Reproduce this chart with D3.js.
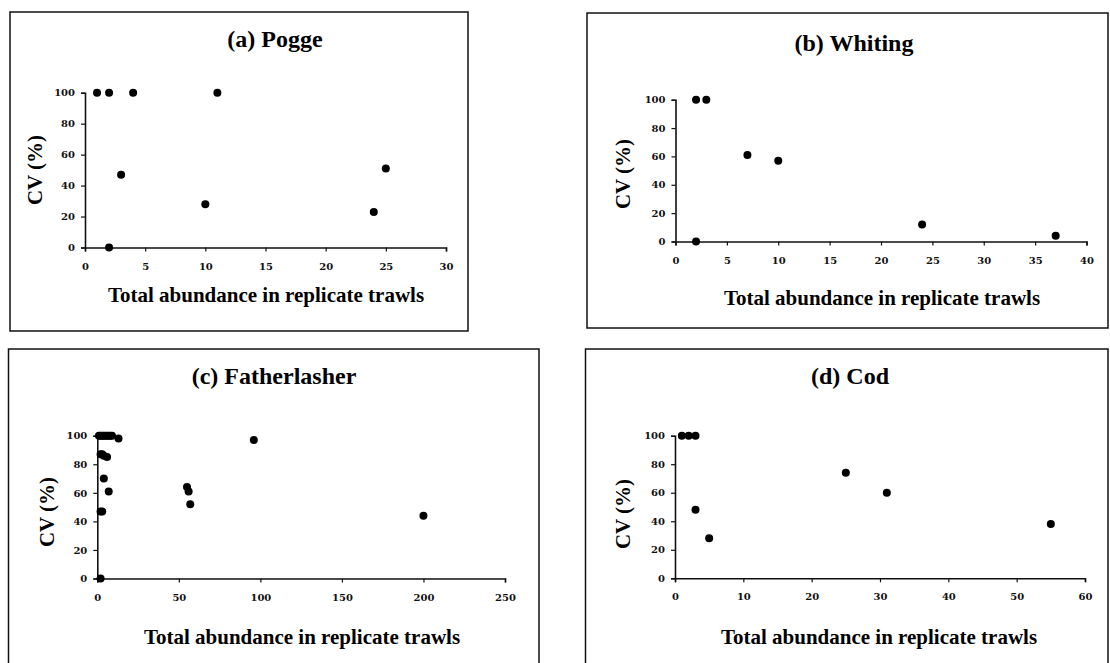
<!DOCTYPE html>
<html>
<head>
<meta charset="utf-8">
<script src="https://cdn.jsdelivr.net/npm/d3@7"></script>
<style>
  html, body { margin: 0; padding: 0; background: #fff; }
  svg { display: block; }
</style>
</head>
<body>
<svg id="chart" width="1110" height="663"></svg>
<script>
// ---------- DATA ----------
const titles = ["(a) Pogge", "(b) Whiting", "(c) Fatherlasher", "(d) Cod"];
const xAxisLabel = "Total abundance in replicate trawls";
const yAxisLabel = "CV (%)";

const poggeX = [1, 2, 4, 11, 3, 2, 10, 24, 25];
const poggeY = [100, 100, 100, 100, 47, 0, 28, 23, 51];

const whitingX = [2, 3, 2, 7, 10, 24, 37];
const whitingY = [100, 100, 0, 61, 57, 12, 4];

const fatherX = [1, 2, 3, 4, 5, 6, 7, 8, 9, 13, 2, 3, 4, 6, 4, 7, 2, 3, 2, 55, 56, 57, 96, 200];
const fatherY = [100, 100, 100, 100, 100, 100, 100, 100, 100, 98, 87, 87, 86, 85, 70, 61, 47, 47, 0, 64, 61, 52, 97, 44];

const codX = [1, 2, 3, 3, 5, 25, 31, 55];
const codY = [100, 100, 100, 48, 28, 74, 60, 38];

const poggeXTicks = [0, 5, 10, 15, 20, 25, 30];
const whitingXTicks = [0, 5, 10, 15, 20, 25, 30, 35, 40];
const fatherXTicks = [0, 50, 100, 150, 200, 250];
const codXTicks = [0, 10, 20, 30, 40, 50, 60];
const yTicks = [0, 20, 40, 60, 80, 100];

// ---------- LAYOUT ----------
const layouts = [
  { box: [10, 12, 468, 331], plot: [85, 446, 92.7, 247.5], title: [275, 47], xlab: [266, 302], ylab: [35, 170] },
  { box: [587, 13, 1108, 328], plot: [675.5, 1086.5, 99.7, 241.5], title: [854, 51], xlab: [882, 305], ylab: [623, 174] },
  { box: [8.5, 349, 539, 690], plot: [97.3, 505, 435.7, 578.5], title: [274, 384], xlab: [302, 644], ylab: [46.5, 512] },
  { box: [585.5, 349, 1108, 690], plot: [675, 1085, 435.7, 578.3], title: [850, 384], xlab: [879, 644], ylab: [623, 514] }
];

const series = [
  { xs: poggeX, ys: poggeY, xTicks: poggeXTicks },
  { xs: whitingX, ys: whitingY, xTicks: whitingXTicks },
  { xs: fatherX, ys: fatherY, xTicks: fatherXTicks },
  { xs: codX, ys: codY, xTicks: codXTicks }
];

const svg = d3.select("#chart");
const serif = "'Liberation Serif', 'Times New Roman', serif";
const tickFont = "'DejaVu Serif', serif";

series.forEach((s, i) => {
  const L = layouts[i];
  const g = svg.append("g");

  // frame
  g.append("rect")
    .attr("x", L.box[0]).attr("y", L.box[1])
    .attr("width", L.box[2] - L.box[0]).attr("height", L.box[3] - L.box[1])
    .attr("fill", "none").attr("stroke", "#111").attr("stroke-width", 1.5);

  const x = d3.scaleLinear()
    .domain([s.xTicks[0], s.xTicks[s.xTicks.length - 1]])
    .range([L.plot[0], L.plot[1]]);
  const y = d3.scaleLinear().domain([0, 100]).range([L.plot[3], L.plot[2]]);

  // axes
  const xAxis = d3.axisBottom(x).tickValues(s.xTicks).tickSize(4).tickSizeOuter(4).tickPadding(11);
  const yAxis = d3.axisLeft(y).tickValues(yTicks).tickSize(4).tickSizeOuter(4).tickPadding(6);

  const gx = g.append("g").attr("transform", `translate(0,${L.plot[3]})`).call(xAxis);
  const gy = g.append("g").attr("transform", `translate(${L.plot[0]},0)`).call(yAxis);

  [gx, gy].forEach(a => {
    a.select(".domain").attr("stroke", "#111").attr("stroke-width", 1.6);
    a.selectAll(".tick line").attr("stroke", "#111").attr("stroke-width", 1.2);
    a.selectAll(".tick text")
      .attr("font-family", tickFont)
      .attr("font-weight", "bold")
      .attr("font-size", 10)
      .attr("fill", "#111");
  });

  // points
  const pts = s.xs.map((v, k) => [v, s.ys[k]]);
  g.append("g").selectAll("circle").data(pts).join("circle")
    .attr("cx", d => x(d[0]))
    .attr("cy", d => y(d[1]))
    .attr("r", 4)
    .attr("fill", "#000");

  // title
  g.append("text")
    .attr("x", L.title[0]).attr("y", L.title[1])
    .attr("text-anchor", "middle")
    .attr("font-family", serif).attr("font-weight", "bold").attr("font-size", 24)
    .attr("fill", "#000")
    .text(titles[i]);

  // x label
  g.append("text")
    .attr("x", L.xlab[0]).attr("y", L.xlab[1])
    .attr("text-anchor", "middle")
    .attr("font-family", serif).attr("font-weight", "bold").attr("font-size", 21)
    .attr("fill", "#000")
    .text(xAxisLabel);

  // y label
  g.append("text")
    .attr("transform", `translate(${L.ylab[0]},${L.ylab[1]}) rotate(-90)`)
    .attr("text-anchor", "middle")
    .attr("dominant-baseline", "central")
    .attr("font-family", serif).attr("font-weight", "bold").attr("font-size", 21)
    .attr("fill", "#000")
    .text(yAxisLabel);
});
</script>
</body>
</html>
